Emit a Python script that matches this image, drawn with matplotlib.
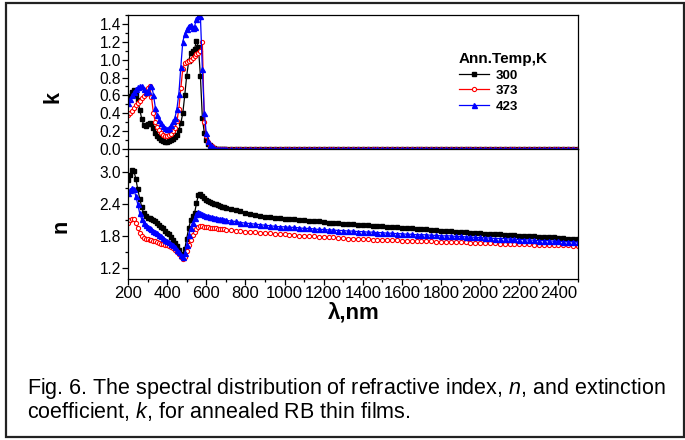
import numpy as np
import matplotlib
matplotlib.use("Agg")
import matplotlib.pyplot as plt
from matplotlib.patches import Rectangle
from matplotlib.ticker import MultipleLocator

plt.rcParams['font.family'] = ['Liberation Sans', 'DejaVu Sans']
plt.rcParams['mathtext.fontset'] = 'custom'
plt.rcParams['mathtext.rm'] = 'Liberation Sans'
plt.rcParams['mathtext.it'] = 'Liberation Sans:italic'

# ----------------------------
# Data
# ----------------------------
wl_short = np.arange(200, 701, 10)     # 200..700 nm, step 10
wl_long = np.arange(725, 2501, 25)     # 725..2500 nm, step 25
wl = np.concatenate([wl_short, wl_long])

temps = ["300", "373", "423"]

k_300 = [0.55, 0.59, 0.64, 0.66, 0.60, 0.55, 0.44, 0.34, 0.27, 0.26,
         0.28, 0.29, 0.28, 0.23, 0.18, 0.15, 0.12, 0.10, 0.09, 0.08,
         0.08, 0.09, 0.10, 0.11, 0.13, 0.16, 0.21, 0.29, 0.40, 0.60,
         0.82, 0.98, 1.08, 1.10, 1.12, 1.21, 1.14, 0.82, 0.35, 0.18,
         0.10, 0.06, 0.04, 0.02, 0.01, 0.0, 0.0, 0.0, 0.0, 0.0, 0.0]
k_373 = [0.38, 0.40, 0.43, 0.46, 0.49, 0.51, 0.54, 0.57, 0.59, 0.62,
         0.68, 0.71, 0.58, 0.40, 0.30, 0.25, 0.21, 0.18, 0.16, 0.15,
         0.15, 0.16, 0.17, 0.20, 0.24, 0.31, 0.45, 0.68, 0.90, 0.96,
         0.97, 0.99, 1.00, 1.02, 1.04, 1.06, 1.08, 1.10, 1.20, 0.30,
         0.14, 0.08, 0.05, 0.03, 0.01, 0.0, 0.0, 0.0, 0.0, 0.0, 0.0]
k_423 = [0.52, 0.56, 0.60, 0.64, 0.67, 0.69, 0.70, 0.70, 0.67, 0.64,
         0.65, 0.70, 0.71, 0.61, 0.46, 0.38, 0.33, 0.29, 0.26, 0.23,
         0.22, 0.24, 0.27, 0.31, 0.35, 0.45, 0.62, 0.92, 1.20, 1.29,
         1.34, 1.38, 1.39, 1.35, 1.37, 1.46, 1.49, 1.49, 0.90, 0.40,
         0.18, 0.09, 0.05, 0.03, 0.01, 0.0, 0.0, 0.0, 0.0, 0.0, 0.0]
k_tail = [0.0] * len(wl_long)   # k is flat at zero beyond ~650 nm

n_300 = [2.85, 2.95, 3.04, 3.03, 2.88, 2.68, 2.51, 2.35, 2.23, 2.18,
         2.15, 2.14, 2.12, 2.10, 2.08, 2.05, 2.02, 1.98, 1.95, 1.91,
         1.87, 1.84, 1.79, 1.74, 1.68, 1.62, 1.54, 1.47, 1.43, 1.56,
         1.76, 1.95, 2.10, 2.18, 2.23, 2.42, 2.58, 2.60, 2.55, 2.52,
         2.49, 2.46, 2.44, 2.42, 2.41, 2.40, 2.38, 2.37, 2.36, 2.35, 2.34,
         2.31, 2.29, 2.27, 2.24, 2.22, 2.20, 2.19, 2.17, 2.16, 2.15,
         2.14, 2.13, 2.12, 2.12, 2.11, 2.10, 2.09, 2.08, 2.08, 2.07,
         2.06, 2.06, 2.05, 2.04, 2.04, 2.03, 2.02, 2.02, 2.01, 2.00,
         2.00, 1.99, 1.98, 1.98, 1.97, 1.96, 1.96, 1.95, 1.94, 1.94,
         1.93, 1.92, 1.92, 1.91, 1.90, 1.90, 1.89, 1.88, 1.88, 1.87,
         1.87, 1.86, 1.85, 1.85, 1.84, 1.84, 1.83, 1.83, 1.82, 1.81,
         1.81, 1.80, 1.80, 1.79, 1.79, 1.78, 1.78, 1.77, 1.77, 1.76,
         1.76, 1.75]
n_373 = [2.06, 2.10, 2.13, 2.12, 2.05, 1.96, 1.87, 1.80, 1.77, 1.76,
         1.75, 1.74, 1.73, 1.72, 1.71, 1.69, 1.67, 1.66, 1.65, 1.64,
         1.63, 1.62, 1.60, 1.58, 1.55, 1.51, 1.46, 1.41, 1.38, 1.42,
         1.52, 1.64, 1.74, 1.82, 1.89, 1.94, 1.98, 2.00, 1.99, 1.98,
         1.98, 1.97, 1.96, 1.96, 1.95, 1.95, 1.94, 1.94, 1.93, 1.93, 1.92,
         1.92, 1.91, 1.90, 1.89, 1.88, 1.88, 1.87, 1.86, 1.86, 1.85,
         1.84, 1.84, 1.83, 1.82, 1.81, 1.81, 1.80, 1.80, 1.79, 1.79,
         1.78, 1.78, 1.77, 1.77, 1.76, 1.76, 1.75, 1.75, 1.75, 1.74,
         1.74, 1.74, 1.73, 1.73, 1.73, 1.72, 1.72, 1.72, 1.71, 1.71,
         1.71, 1.71, 1.70, 1.70, 1.70, 1.70, 1.69, 1.69, 1.69, 1.68,
         1.68, 1.68, 1.67, 1.67, 1.67, 1.66, 1.66, 1.66, 1.66, 1.65,
         1.65, 1.65, 1.64, 1.64, 1.64, 1.64, 1.63, 1.63, 1.63, 1.63,
         1.62, 1.62]
n_423 = [2.62, 2.67, 2.71, 2.69, 2.55, 2.40, 2.23, 2.12, 2.06, 2.02,
         1.98, 1.95, 1.93, 1.91, 1.89, 1.87, 1.83, 1.80, 1.77, 1.74,
         1.72, 1.69, 1.66, 1.63, 1.60, 1.55, 1.50, 1.45, 1.42, 1.48,
         1.64, 1.83, 1.96, 2.06, 2.14, 2.22, 2.26, 2.24, 2.22, 2.20,
         2.19, 2.18, 2.17, 2.16, 2.15, 2.14, 2.13, 2.12, 2.12, 2.11, 2.10,
         2.09, 2.08, 2.06, 2.05, 2.04, 2.03, 2.02, 2.01, 2.00, 1.99,
         1.98, 1.98, 1.97, 1.97, 1.96, 1.95, 1.95, 1.94, 1.93, 1.93,
         1.92, 1.92, 1.91, 1.91, 1.90, 1.90, 1.89, 1.89, 1.88, 1.88,
         1.87, 1.87, 1.86, 1.86, 1.85, 1.85, 1.84, 1.84, 1.83, 1.83,
         1.83, 1.82, 1.82, 1.81, 1.81, 1.81, 1.80, 1.80, 1.79, 1.79,
         1.78, 1.78, 1.77, 1.77, 1.76, 1.76, 1.76, 1.75, 1.75, 1.74,
         1.74, 1.73, 1.73, 1.72, 1.72, 1.72, 1.71, 1.71, 1.70, 1.70,
         1.70, 1.69]

k_series = [k_300 + k_tail, k_373 + k_tail, k_423 + k_tail]
n_series = [n_300, n_373, n_423]

# ----------------------------
# Styles
# ----------------------------
styles = [
    dict(color="black", marker="s", ms=2.8, mfc="black", mec="black"),
    dict(color="red", marker="o", ms=3.0, mfc="white", mec="red", mew=0.8),
    dict(color="blue", marker="^", ms=3.6, mfc="blue", mec="blue"),
]

W, H = 685, 440
fig = plt.figure(figsize=(W / 100, H / 100), dpi=100)

# outer page frame
fig.patches.append(Rectangle((6 / W, 1 - 437 / H), 678 / W, 434 / H,
                             transform=fig.transFigure, fill=False,
                             lw=1.6, ec="#222222"))

left, right = 128 / W, 578 / W
ax_k = fig.add_axes([left, 1 - 149 / H, right - left, 134 / H])
ax_n = fig.add_axes([left, 1 - 279 / H, right - left, 130 / H], sharex=ax_k)

for ser, st, lab in zip(k_series, styles, temps):
    ax_k.plot(wl, ser, lw=0.9, label=lab, **st)
for ser, st in zip(n_series, styles):
    ax_n.plot(wl, ser, lw=0.9, **st)

ax_k.set_xlim(200, 2500)
ax_k.set_ylim(0, 1.5)
ax_n.set_ylim(1.0, 3.44)

for ax in (ax_k, ax_n):
    for sp in ax.spines.values():
        sp.set_linewidth(0.9)
    ax.tick_params(axis="y", which="both", direction="out", labelsize=11.2,
                   pad=1.2, width=0.9)
    ax.tick_params(axis="y", which="major", length=4)
    ax.tick_params(axis="y", which="minor", length=2.5)

ax_k.yaxis.set_major_locator(MultipleLocator(0.2))
ax_k.yaxis.set_minor_locator(MultipleLocator(0.1))
ax_k.yaxis.set_major_formatter(plt.FormatStrFormatter("%.1f"))
ax_k.tick_params(axis="x", which="both", bottom=False, labelbottom=False)

ax_n.yaxis.set_major_locator(MultipleLocator(0.6))
ax_n.yaxis.set_minor_locator(MultipleLocator(0.3))
ax_n.yaxis.set_major_formatter(plt.FormatStrFormatter("%.1f"))
ax_n.xaxis.set_major_locator(MultipleLocator(200))
ax_n.xaxis.set_minor_locator(MultipleLocator(100))
ax_n.tick_params(axis="x", which="both", direction="out", labelsize=12,
                 pad=1.2, width=0.9)
ax_n.tick_params(axis="x", which="major", length=4)
ax_n.tick_params(axis="x", which="minor", length=2.5)

fig.text(53 / W, 1 - 97 / H, "k", rotation=90, ha="center", va="center",
         fontsize=15.5, fontweight="bold")
fig.text(61 / W, 1 - 226 / H, "n", rotation=90, ha="center", va="center",
         fontsize=15.5, fontweight="bold")
fig.text(354 / W, 1 - 313 / H, "λ,nm", ha="center", va="center",
         fontsize=16, fontweight="bold")

leg = ax_k.legend(title="Ann.Temp,K", loc="upper left",
                  bbox_to_anchor=(459 / W, 1 - 52 / H),
                  bbox_transform=fig.transFigure, frameon=False,
                  prop=dict(size=9.5, weight="bold"),
                  title_fontproperties=dict(size=11, weight="bold"),
                  handlelength=2.3, handletextpad=0.45, labelspacing=0.25,
                  borderpad=0, borderaxespad=0, alignment="left",
                  markerscale=1.0)

caption = ("Fig. 6. The spectral distribution of refractive index, $n$, and extinction\n"
           "coefficient, $k$, for annealed RB thin films.")
fig.text(27 / W, 1 - 418 / H, caption, ha="left", va="baseline",
         fontsize=15.5, linespacing=0.92)

fig.savefig("out.png", dpi=100)
